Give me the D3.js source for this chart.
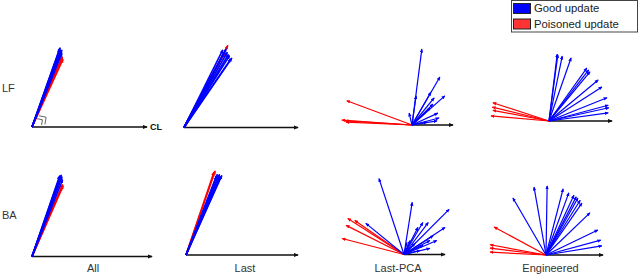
<!DOCTYPE html>
<html>
<head>
<meta charset="utf-8">
<script src="https://cdn.jsdelivr.net/npm/d3@7"></script>
<style>
  body { margin: 0; background: #fff; }
  svg { display: block; font-family: "Liberation Sans", Arial, sans-serif; }
</style>
</head>
<body>
<div id="chart"></div>
<script>
// ---- data: update vectors, [along CL axis, perpendicular], axis length = 1 ----
const rowLabels = ["LF", "BA"];
const columnLabels = ["All", "Last", "Last-PCA", "Engineered"];
const legendLabels = ["Good update", "Poisoned update"];
const axisLabel = "CL";

const goodLFAll = [[0.24,0.68],[0.25,0.67],[0.25,0.66],[0.26,0.67],[0.245,0.69],[0.255,0.655],[0.26,0.64]];
const poisonedLFAll = [[0.26,0.60],[0.265,0.61],[0.27,0.59]];

const goodLFLast = [[0.34,0.68],[0.36,0.67],[0.38,0.66],[0.40,0.63],[0.42,0.61],[0.39,0.64],[0.37,0.69],[0.35,0.65],[0.41,0.60]];
const poisonedLFLast = [[0.385,0.72],[0.36,0.66]];

const goodLFPCA = [[0.24,1.85],[0.68,1.17],[0.80,0.71],[0.46,0.80],[0.10,0.71],[-0.07,0.29],[0.51,0.51],
  [0.63,0.29],[0.66,0.17],[0.61,0.10],[0.44,0.41],[0.37,0.07],[0.54,0.66]];
const poisonedLFPCA = [[-1.59,0.59],[-1.71,0.12],[-1.63,0.10],[-1.61,0.07]];

const goodLFEng = [[0.13,1.06],[0.21,1.03],[0.35,1.00],[0.60,0.84],[0.65,0.78],[0.63,0.81],[0.78,0.65],
  [0.84,0.54],[0.92,0.37],[0.94,0.25],[0.95,0.21],[0.94,0.13],[0.14,1.05]];
const poisonedLFEng = [[-0.89,0.29],[-0.90,0.22],[-0.89,0.17],[-0.92,0.08]];

const goodBAAll = [[0.23,0.67],[0.24,0.66],[0.245,0.68],[0.25,0.665],[0.24,0.65],[0.235,0.675],[0.255,0.64]];
const poisonedBAAll = [[0.25,0.58],[0.26,0.59],[0.255,0.60]];

const goodBALast = [[0.30,0.72],[0.29,0.71],[0.31,0.70],[0.28,0.72],[0.30,0.69],[0.27,0.70],[0.32,0.71]];
const poisonedBALast = [[0.26,0.75],[0.25,0.74]];

const goodBAPCA = [[-0.61,1.85],[0.20,1.27],[1.10,1.10],[1.00,0.66],[-0.93,0.76],[0.59,0.78],[0.46,0.78],
  [0.34,0.66],[0.71,0.46],[0.63,0.34],[0.46,0.22],[0.63,0.15],[0.27,0.27],[0.15,0.34],[0.07,0.29],
  [0.39,0.10],[0.80,0.34]];
const poisonedBAPCA = [[-1.37,0.88],[-1.20,0.83],[-1.41,0.71],[-1.51,0.39]];

const goodBAEng = [[-0.58,1.00],[-0.21,1.19],[0.02,1.21],[0.30,1.16],[0.40,1.09],[0.49,1.05],[0.56,1.00],
  [0.53,1.02],[0.63,0.91],[0.60,0.96],[0.77,0.74],[0.91,0.44],[0.96,0.26],[0.98,0.16]];
const poisonedBAEng = [[-0.91,0.49],[-0.98,0.18],[-0.98,0.12],[-0.98,0.05]];

// ---- layout ----
const width = 640, height = 276;
const goodColor = "#0000ff", poisonColor = "#ff0000";

const panels = [
  {row:0, col:0, ox:32,  oy:127,   len:115, good:goodLFAll,  bad:poisonedLFAll,  lw:1.6},
  {row:0, col:1, ox:184, oy:127.5, len:114, good:goodLFLast, bad:poisonedLFLast, lw:1.6},
  {row:0, col:2, ox:412, oy:125,   len:41,  good:goodLFPCA,  bad:poisonedLFPCA,  lw:1.2},
  {row:0, col:3, ox:549, oy:121,   len:63,  good:goodLFEng,  bad:poisonedLFEng,  lw:1.2},
  {row:1, col:0, ox:32,  oy:256.5, len:120, good:goodBAAll,  bad:poisonedBAAll,  lw:1.6},
  {row:1, col:1, ox:186, oy:255,   len:112, good:goodBALast, bad:poisonedBALast, lw:1.6},
  {row:1, col:2, ox:404, oy:254.5, len:41,  good:goodBAPCA,  bad:poisonedBAPCA,  lw:1.2},
  {row:1, col:3, ox:546, oy:255,   len:57,  good:goodBAEng,  bad:poisonedBAEng,  lw:1.2}
];

const svg = d3.select("#chart").append("svg")
  .attr("width", width)
  .attr("height", height);

// arrowhead markers
const defs = svg.append("defs");
[["head-good", goodColor, 4], ["head-bad", poisonColor, 4], ["head-axis", "#111", 5]].forEach(([id, c, s]) => {
  defs.append("marker")
    .attr("id", id)
    .attr("viewBox", "0 -3 6 6")
    .attr("refX", 5)
    .attr("refY", 0)
    .attr("markerUnits", "userSpaceOnUse")
    .attr("markerWidth", s)
    .attr("markerHeight", s)
    .attr("orient", "auto")
    .append("path")
    .attr("d", "M0,-2.6L6,0L0,2.6Z")
    .attr("fill", c);
});

panels.forEach(p => {
  const x = d3.scaleLinear().domain([0, 1]).range([p.ox, p.ox + p.len]);
  const y = d3.scaleLinear().domain([0, 1]).range([p.oy, p.oy - p.len]);
  const g = svg.append("g");

  // CL axis
  g.append("line")
    .attr("x1", x(0)).attr("y1", y(0))
    .attr("x2", x(1)).attr("y2", y(0))
    .attr("stroke", "#111")
    .attr("stroke-width", 1.3)
    .attr("marker-end", "url(#head-axis)");

  // poisoned updates (drawn first, good ones on top)
  g.selectAll(".bad")
    .data(p.bad)
    .enter()
    .append("line")
    .attr("x1", x(0)).attr("y1", y(0))
    .attr("x2", d => x(d[0])).attr("y2", d => y(d[1]))
    .attr("stroke", poisonColor)
    .attr("stroke-width", p.lw)
    .attr("marker-end", "url(#head-bad)");

  // good updates
  g.selectAll(".good")
    .data(p.good)
    .enter()
    .append("line")
    .attr("x1", x(0)).attr("y1", y(0))
    .attr("x2", d => x(d[0])).attr("y2", d => y(d[1]))
    .attr("stroke", goodColor)
    .attr("stroke-width", p.lw)
    .attr("marker-end", "url(#head-good)");

  if (p.row === 0 && p.col === 0) {
    // angle marker between update and CL axis
    const ang = Math.atan2(p.good[1][1], p.good[1][0]);
    [0.085, 0.115].forEach(r => {
      const pts = [[r, ang - 0.2], [r * 1.3, ang / 2], [r, 0.2]]
        .map(([rr, a]) => [x(rr * Math.cos(a)), y(rr * Math.sin(a))]);
      g.append("path")
        .attr("d", d3.line()(pts))
        .attr("fill", "none")
        .attr("stroke", "#666")
        .attr("stroke-width", 1);
    });
    g.append("text")
      .attr("x", x(1) + 3)
      .attr("y", y(0))
      .attr("dy", "0.35em")
      .attr("font-size", 9)
      .attr("font-weight", "bold")
      .attr("fill", "#111")
      .text(axisLabel);
  }
});

// row labels
const rowY = [88, 215];
svg.selectAll(".rowlab")
  .data(rowLabels)
  .enter()
  .append("text")
  .attr("x", 2)
  .attr("y", (d, i) => rowY[i])
  .attr("dy", "0.35em")
  .attr("font-size", 11)
  .attr("fill", "#333")
  .text(d => d);

// column labels
const colX = [93, 245, 398, 550.5];
svg.selectAll(".collab")
  .data(columnLabels)
  .enter()
  .append("text")
  .attr("x", (d, i) => colX[i])
  .attr("y", 268.5)
  .attr("dy", "0.35em")
  .attr("text-anchor", "middle")
  .attr("font-size", 11)
  .attr("fill", "#333")
  .text(d => d);

// legend
const legend = svg.append("g");
legend.append("rect")
  .attr("x", 511.5).attr("y", 0.5)
  .attr("width", 126).attr("height", 31.5)
  .attr("fill", "#fff")
  .attr("stroke", "#444")
  .attr("stroke-width", 1);
legend.selectAll(".item")
  .data(legendLabels)
  .enter()
  .append("g")
  .each(function (d, i) {
    const it = d3.select(this);
    it.append("rect")
      .attr("x", 513.5).attr("y", 3.5 + i * 15.5)
      .attr("width", 17).attr("height", 10)
      .attr("fill", i === 0 ? goodColor : "#ff3333")
      .attr("stroke", "#222")
      .attr("stroke-width", 1);
    it.append("text")
      .attr("x", 534)
      .attr("y", 8.5 + i * 15.5)
      .attr("dy", "0.35em")
      .attr("font-size", 11.3)
      .attr("fill", "#222")
      .text(d);
  });
</script>
</body>
</html>
